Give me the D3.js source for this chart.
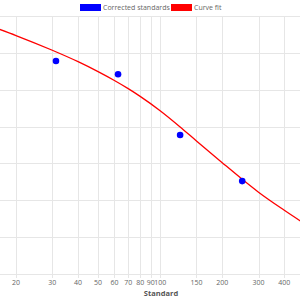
<!DOCTYPE html>
<html>
<head>
<meta charset="utf-8">
<script src="https://cdn.jsdelivr.net/npm/d3@7"></script>
<style>
  body { margin: 0; background: #fff; }
  svg { display: block; font-family: "Open Sans", "Noto Sans", sans-serif; }
</style>
</head>
<body>
<svg id="chart" width="300" height="300"></svg>
<script>
var width = 300, height = 300;

// corrected standards (points)
var stdX = [31.25, 62.5, 125, 250];
var stdY = [5.78, 5.42, 3.77, 2.52];

// curve fit
var fitX = [15, 20, 30, 40, 50, 60, 70, 80, 100, 125, 150, 200, 250, 300, 400, 500, 560];
var fitY = [6.73, 6.47, 6.07, 5.76, 5.49, 5.25, 5.03, 4.82, 4.43, 3.99, 3.61, 3.02, 2.57, 2.22, 1.73, 1.37, 1.19];

var xTicks = [20, 30, 40, 50, 60, 70, 80, 90, 100, 150, 200, 300, 400, 500];
var xLabels = [20, 30, 40, 50, 60, 70, 80, 90, 100, 150, 200, 300, 400];
var yTicks = [0, 1, 2, 3, 4, 5, 6, 7];

var plotTop = 16, plotBottom = 274;

var x = d3.scaleLog().domain([20, 400]).range([16, 284.3]);
var y = d3.scaleLinear().domain([0, 7]).range([plotBottom, plotTop]);

var svg = d3.select('#chart');

svg.append('clipPath').attr('id', 'plot')
  .append('rect')
  .attr('x', 0).attr('y', plotTop - 2)
  .attr('width', width).attr('height', plotBottom - plotTop + 4);

var grid = svg.append('g');

grid.selectAll('line.h')
  .data(yTicks)
  .enter()
  .append('line')
  .attr('class', 'h')
  .attr('x1', 0).attr('x2', width)
  .attr('y1', function(d) { return Math.round(y(d)) + 0.5; })
  .attr('y2', function(d) { return Math.round(y(d)) + 0.5; })
  .style('stroke', '#e6e6e6')
  .style('stroke-width', 1);

grid.selectAll('line.v')
  .data(xTicks)
  .enter()
  .append('line')
  .attr('class', 'v')
  .attr('x1', function(d) { return Math.round(x(d)) + 0.5; })
  .attr('x2', function(d) { return Math.round(x(d)) + 0.5; })
  .attr('y1', plotTop).attr('y2', plotBottom + 4)
  .style('stroke', '#e6e6e6')
  .style('stroke-width', 1);

svg.append('g')
  .selectAll('text')
  .data(xLabels)
  .enter()
  .append('text')
  .attr('x', function(d) { return x(d); })
  .attr('y', 285)
  .attr('text-anchor', 'middle')
  .style('font-size', '7px')
  .style('fill', '#666')
  .text(function(d) { return d; });

svg.append('text')
  .attr('x', 161)
  .attr('y', 296)
  .attr('text-anchor', 'middle')
  .style('font-size', '7.5px')
  .style('font-weight', 'bold')
  .style('fill', '#555')
  .text('Standard');

var fit = d3.zip(fitX, fitY);
var line = d3.line()
  .x(function(d) { return x(d[0]); })
  .y(function(d) { return y(d[1]); })
  .curve(d3.curveMonotoneX);

svg.append('path')
  .datum(fit)
  .attr('clip-path', 'url(#plot)')
  .attr('d', line)
  .style('fill', 'none')
  .style('stroke', '#ff0000')
  .style('stroke-width', 1.3);

svg.append('g')
  .selectAll('circle')
  .data(d3.zip(stdX, stdY))
  .enter()
  .append('circle')
  .attr('cx', function(d) { return x(d[0]); })
  .attr('cy', function(d) { return y(d[1]); })
  .attr('r', 3.3)
  .style('fill', '#0000ff');

// legend
var legend = [
  {label: 'Corrected standards', color: '#0000ff', x: 80},
  {label: 'Curve fit', color: '#ff0000', x: 171}
];
var lg = svg.append('g').selectAll('g')
  .data(legend)
  .enter()
  .append('g');
lg.append('rect')
  .attr('x', function(d) { return d.x + 0.5; })
  .attr('y', 4.5)
  .attr('width', 20).attr('height', 6)
  .style('fill', function(d) { return d.color; })
  .style('stroke', function(d) { return d.color; });
lg.append('text')
  .attr('x', function(d) { return d.x + 23; })
  .attr('y', 10)
  .style('font-size', '7px')
  .style('fill', '#666')
  .text(function(d) { return d.label; });
</script>
</body>
</html>
